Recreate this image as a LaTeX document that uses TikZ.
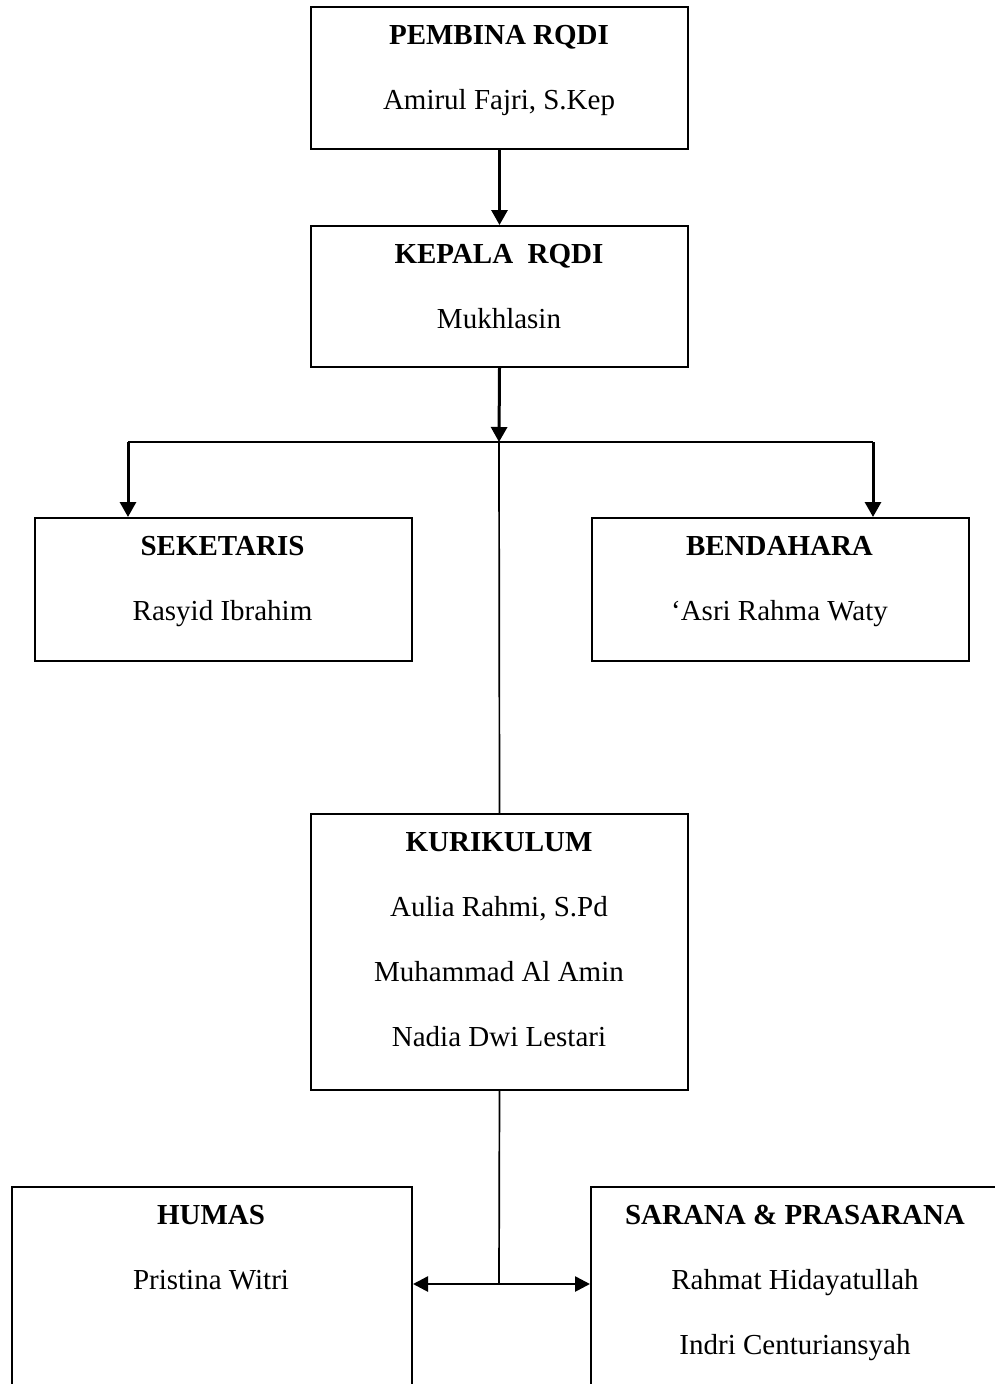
\documentclass[tikz,border=0pt]{standalone}
\usepackage{fontspec}
\setmainfont{Liberation Serif}
\usetikzlibrary{arrows.meta}
\tikzset{
  box/.style={draw, line width=2pt, rectangle, anchor=north west, inner sep=0pt},
  head/.style={anchor=base, inner sep=0pt, font=\fontsize{29}{34}\selectfont\bfseries},
  nm/.style={anchor=base, inner sep=0pt, font=\fontsize{29}{34}\selectfont},
  conn/.style={line width=1.7pt},
  arr/.style={line width=3pt, -{Triangle[length=15pt,width=16pt]}},
  darr/.style={line width=2.6pt, {Triangle[length=15pt,width=15pt]}-{Triangle[length=15pt,width=15pt]}}
}
\begin{document}
\begin{tikzpicture}[x=1pt,y=-1pt]
\useasboundingbox (0,0) rectangle (995,1384);
\clip (0,0) rectangle (995,1384);
% boxes
\node[box, minimum width=377pt, minimum height=142pt] (pembina) at (310,6) {};
\node[box, minimum width=377pt, minimum height=141pt] (kepala) at (310,225) {};
\node[box, minimum width=377pt, minimum height=143pt] (sek) at (34,517) {};
\node[box, minimum width=377pt, minimum height=143pt] (bend) at (591,517) {};
\node[box, minimum width=377pt, minimum height=276pt] (kur) at (310,813) {};
\node[box, minimum width=400pt, minimum height=260pt] (humas) at (11,1186) {};
\node[box, minimum width=410pt, minimum height=260pt] (sarana) at (590,1186) {};
% texts
\node[head] (t1) at (499,44.5) {PEMBINA RQDI};
\node[nm] (t2) at (499,109.5) {Amirul Fajri, S.Kep};
\node[head] (t3) at (499,263.5) {KEPALA\ \ RQDI};
\node[nm] (t4) at (499,328.5) {Mukhlasin};
\node[head] (t5) at (222.5,555.5) {SEKETARIS};
\node[nm] (t6) at (222.5,620.5) {Rasyid Ibrahim};
\node[head] (t7) at (779.5,555.5) {BENDAHARA};
\node[nm] (t8) at (779.5,620.5) {`Asri Rahma Waty};
\node[head] (t9) at (499,851.5) {KURIKULUM};
\node[nm] (t10) at (499,916.5) {Aulia Rahmi, S.Pd};
\node[nm] (t11) at (499,981.5) {Muhammad Al Amin};
\node[nm] (t12) at (499,1046.5) {Nadia Dwi Lestari};
\node[head] (t13) at (211,1224.5) {HUMAS};
\node[nm] (t14) at (211,1289.5) {Pristina Witri};
\node[head] (t15) at (795,1224.5) {SARANA \& PRASARANA};
\node[nm] (t16) at (795,1289.5) {Rahmat Hidayatullah};
\node[nm] (t17) at (795,1354.5) {Indri Centuriansyah};
% connectors
\coordinate (jc) at (499,442);
\coordinate (jl) at (128,442);
\coordinate (jr) at (873,442);
\coordinate (jb) at (499,1284);
\draw[arr] (pembina.south) -- (kepala.north);
\draw[arr] (kepala.south) -- (jc);
\draw[conn] (jl) -- (jr);
\draw[arr] (jl) -- (sek.north -| jl);
\draw[arr] (jr) -- (bend.north -| jr);
\draw[conn] (jc) -- (kur.north);
\draw[conn] (kur.south) -- (jb);
\draw[darr] (humas.east |- jb) -- (sarana.west |- jb);
\end{tikzpicture}
\end{document}
